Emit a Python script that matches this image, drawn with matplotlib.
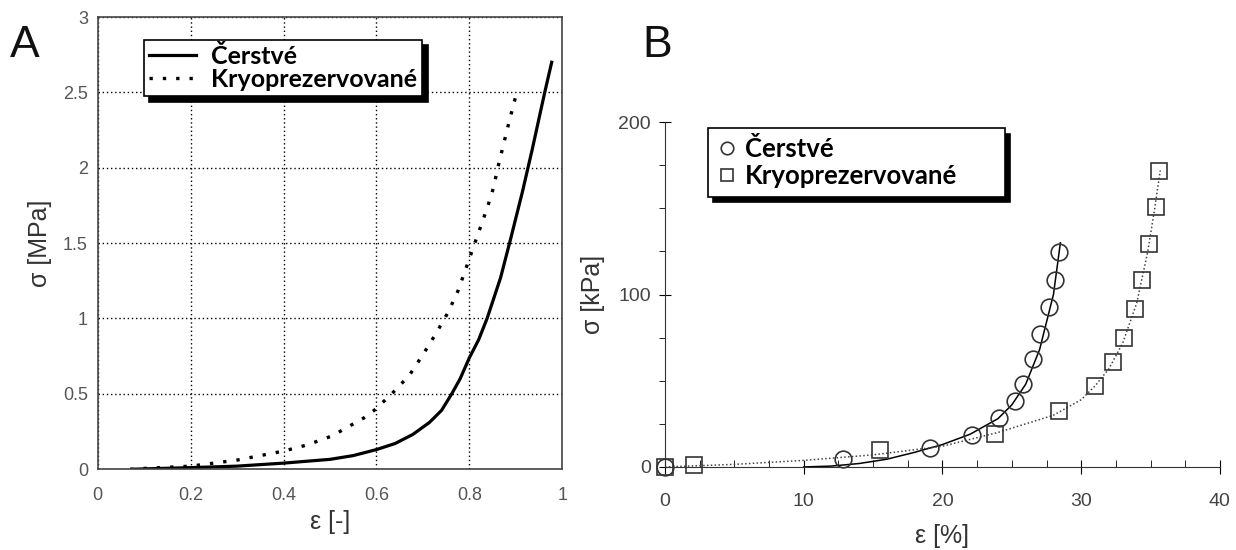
# stress-strain curves: fresh vs cryopreserved samples, two panels

import matplotlib.pyplot as plt
from matplotlib.ticker import MultipleLocator, FuncFormatter

# panel A: strain [-] / stress [MPa]
a_fresh_eps = [0.08, 0.2, 0.3, 0.4, 0.5, 0.55, 0.6, 0.64, 0.678, 0.714, 0.74, 0.762, 0.78,
               0.8, 0.82, 0.838, 0.867, 0.888, 0.914, 0.935, 0.962, 0.977]
a_fresh_sig = [0.0, 0.01, 0.02, 0.04, 0.065, 0.09, 0.13, 0.17, 0.23, 0.31, 0.39, 0.5, 0.6,
               0.74, 0.86, 1.0, 1.27, 1.52, 1.84, 2.12, 2.5, 2.7]
a_cryo_eps = [0.07, 0.2, 0.3, 0.4, 0.45, 0.504, 0.573, 0.595, 0.633, 0.67, 0.7, 0.728, 0.754,
              0.775, 0.79, 0.807, 0.823, 0.839, 0.852, 0.861, 0.885, 0.9]
a_cryo_sig = [0.0, 0.02, 0.06, 0.12, 0.16, 0.22, 0.34, 0.39, 0.5, 0.62, 0.76, 0.9, 1.04,
              1.18, 1.31, 1.46, 1.6, 1.74, 1.87, 2.0, 2.3, 2.48]

# panel B: measured points, strain [%] / stress [kPa]
b_fresh_eps = [0, 12.8, 19.1, 22.1, 24.1, 25.2, 25.8, 26.5, 27.0, 27.7, 28.1, 28.4]
b_fresh_sig = [0, 4.8, 11, 18.3, 28.5, 38.5, 48, 62.5, 77.3, 92.9, 108.6, 124.4]
b_cryo_eps = [0, 2.1, 15.5, 23.8, 28.4, 31.0, 32.3, 33.1, 33.9, 34.4, 34.9, 35.4, 35.6]
b_cryo_sig = [0, 1, 9.6, 19.2, 32.3, 47, 60.6, 75, 91.7, 108.6, 129.4, 150.6, 171.7]

# panel B: fitted curves
b_fresh_fit_eps = [10, 12, 14, 16, 18, 20, 22, 24, 25, 26, 27, 28, 28.5]
b_fresh_fit_sig = [0, 0.5, 2, 4.5, 8.5, 13, 19, 28, 36, 48, 68, 100, 130]
b_cryo_fit_eps = [0, 5, 10, 15, 20, 24, 28, 30, 31, 32, 33, 34, 34.8, 35.3, 35.7]
b_cryo_fit_sig = [0, 1.5, 3.8, 7, 12, 20, 30, 39, 47, 57, 72, 95, 125, 150, 172]

labels = ["Čerstvé", "Kryoprezervované"]

plt.rcParams['font.family'] = ['Liberation Sans', 'DejaVu Sans']
shadow = {'color': 'black', 'alpha': 1, 'ox': 4, 'oy': -4}
fmt = FuncFormatter(lambda v, _: f'{v:g}')

fig = plt.figure(figsize=(12.36, 5.5), dpi=100)

# ---- panel A ----
ax = fig.add_axes([0.079, 0.147, 0.376, 0.822])
ax.plot(a_fresh_eps, a_fresh_sig, color='black', lw=2.3, label=labels[0])
ax.plot(a_cryo_eps, a_cryo_sig, color='black', lw=2.4, ls=(0, (1, 3)), label=labels[1])
ax.set_xlim(0, 1)
ax.set_ylim(0, 3)
ax.xaxis.set_major_locator(MultipleLocator(0.2))
ax.yaxis.set_major_locator(MultipleLocator(0.5))
ax.xaxis.set_major_formatter(fmt)
ax.yaxis.set_major_formatter(fmt)
ax.grid(True, color='black', ls=(0, (1, 2)), lw=1)
ax.tick_params(axis='x', direction='in', length=0, labelsize=13, labelcolor='#555555', pad=13)
ax.tick_params(axis='y', direction='in', length=0, labelsize=13, labelcolor='#555555', pad=7)
for s in ax.spines.values():
    s.set_color('#444444')
    s.set_linewidth(1.2)
ax.set_xlabel('ε [-]', fontsize=18, color='#333333', labelpad=4)
ax.set_ylabel('σ [MPa]', fontsize=18, color='#333333', labelpad=8)
leg = ax.legend(loc='upper left', bbox_to_anchor=(0.099, 0.95), borderaxespad=0,
                prop={'family': 'Lato', 'weight': 'bold', 'size': 18},
                frameon=True, fancybox=False, shadow=shadow,
                borderpad=0.2, handlelength=1.9, handletextpad=0.6, labelspacing=0.02,
                framealpha=1)
leg.get_frame().set_edgecolor('black')
leg.get_frame().set_linewidth(1.2)
fig.text(0.008, 0.896, 'A', fontsize=32, color='#111111')

# ---- panel B ----
bx = fig.add_axes([0.538, 0.151, 0.449, 0.627])
bx.plot(b_fresh_fit_eps, b_fresh_fit_sig, color='black', lw=1.1)
bx.plot(b_cryo_fit_eps, b_cryo_fit_sig, color='#444444', lw=1.1, ls=(0, (1, 1.5)))
bx.plot(b_fresh_eps, b_fresh_sig, ls='none', marker='o', ms=12, mfc='none',
        mec='#333333', mew=1.2, label=labels[0], clip_on=False)
bx.plot(b_cryo_eps, b_cryo_sig, ls='none', marker='s', ms=12, mfc='none',
        mec='#333333', mew=1.2, label=labels[1], clip_on=False)
bx.set_xlim(0, 40)
bx.set_ylim(0, 200)
bx.spines['top'].set_visible(False)
bx.spines['right'].set_visible(False)
for s in ('left', 'bottom'):
    bx.spines[s].set_color('#333333')
bx.xaxis.set_major_locator(MultipleLocator(10))
bx.xaxis.set_minor_locator(MultipleLocator(2.5))
bx.yaxis.set_major_locator(MultipleLocator(100))
bx.yaxis.set_minor_locator(MultipleLocator(25))
bx.tick_params(axis='x', which='major', direction='inout', length=10, labelsize=14,
               labelcolor='#444444', pad=14)
bx.tick_params(axis='x', which='minor', direction='in', length=5)
bx.tick_params(axis='y', which='major', direction='inout', length=8, labelsize=14,
               labelcolor='#444444', pad=6)
bx.tick_params(axis='y', which='minor', direction='out', length=4)
bx.set_xlabel('ε [%]', fontsize=18, color='#333333', labelpad=10)
bx.set_ylabel('σ [kPa]', fontsize=18, color='#333333', labelpad=10)
leg2 = bx.legend(loc='upper left', bbox_to_anchor=(0.077, 0.983 - 0.21, 0.535, 0.21),
                 mode='expand', borderaxespad=0,
                 prop={'family': 'Lato', 'weight': 'bold', 'size': 18.5},
                 frameon=True, fancybox=False, shadow=shadow,
                 borderpad=0.35, handlelength=0.8, handletextpad=0.3, labelspacing=0.1,
                 markerscale=0.75, framealpha=1)
leg2.get_frame().set_edgecolor('black')
leg2.get_frame().set_linewidth(1.2)
fig.text(0.52, 0.896, 'B', fontsize=32, color='#111111')

fig.savefig('out.png', dpi=100, facecolor='white')
